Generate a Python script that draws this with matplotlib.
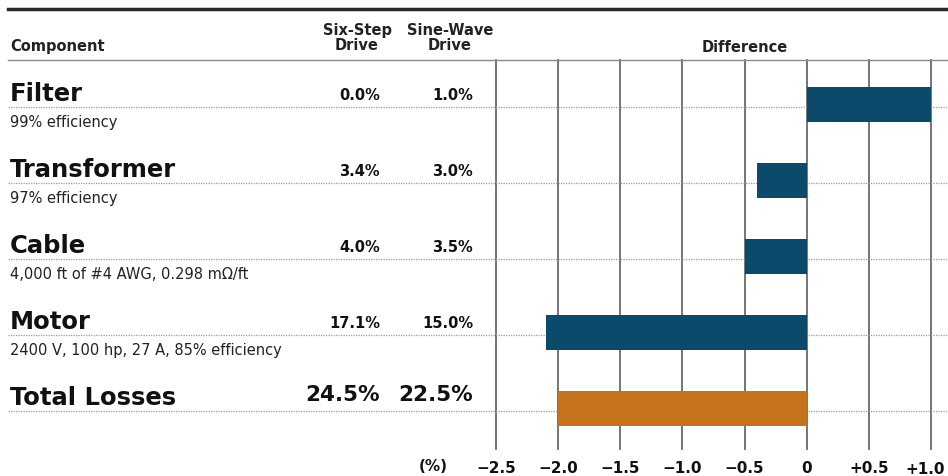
import numpy as np
import matplotlib
matplotlib.use("Agg")
import matplotlib.pyplot as plt
from matplotlib.lines import Line2D
from matplotlib.transforms import blended_transform_factory

components = ["Filter", "Transformer", "Cable", "Motor", "Total Losses"]
details = ["99% efficiency", "97% efficiency", "4,000 ft of #4 AWG, 0.298 m\u03a9/ft",
           "2400 V, 100 hp, 27 A, 85% efficiency", ""]
six_step = ["0.0%", "3.4%", "4.0%", "17.1%", "24.5%"]
sine_wave = ["1.0%", "3.0%", "3.5%", "15.0%", "22.5%"]
difference = [1.0, -0.4, -0.5, -2.1, -2.0]
ticks = [-2.5, -2.0, -1.5, -1.0, -0.5, 0, 0.5, 1.0]
tick_labels = ["\u22122.5", "\u22122.0", "\u22121.5", "\u22121.0", "\u22120.5", "0", "+0.5", "+1.0"]

W, H = 948, 477
navy = "#0C4A6C"
orange = "#C5731B"

plt.rcParams['font.family'] = ['DejaVu Sans']

fig = plt.figure(figsize=(W / 100, H / 100), dpi=100)
ax = fig.add_axes([496 / W, 1 - 450 / H, (W - 496) / W, (450 - 61) / H])

rows = np.arange(len(components))
colors = [navy] * 4 + [orange]
ax.barh(rows, difference, height=0.46, color=colors, zorder=3)

ax.set_xlim(-2.5, -2.5 + (W - 496) / 124.3)
ax.set_ylim(4.53, -0.59)
ax.set_xticks(ticks)
# last label sits against the right edge, drawn separately and nudged left
ax.set_xticklabels(tick_labels[:-1] + [""], fontsize=11, fontweight='bold', color='#111111')
ax.annotate(tick_labels[-1], xy=(ticks[-1], 0), xycoords=('data', 'axes fraction'),
            xytext=(-4, -14), textcoords='offset points', ha='center', va='center',
            fontsize=11, fontweight='bold', color='#111111', annotation_clip=False)
ax.tick_params(axis='x', length=0, pad=8)
ax.set_yticks([])
ax.grid(axis='x', color='#6a6a6a', lw=1.3, zorder=1)
for g in ax.xaxis.get_gridlines():
    g.set_clip_on(False)
for s in ax.spines.values():
    s.set_visible(False)

# dotted row lines across the whole figure
tr = ax.get_yaxis_transform()
x_left = (8 - 496) / (W - 496)
for r in rows:
    ax.add_line(Line2D([x_left, 1], [r + 0.03, r + 0.03], transform=tr, color='#9a9a9a',
                       lw=0.9, ls=(0, (1, 1)), clip_on=False, zorder=2))

# header rules
fig.add_artist(Line2D([8 / W, 1], [1 - 10 / H, 1 - 10 / H], color='#2a2a2a', lw=2.5))
fig.add_artist(Line2D([8 / W, 1], [1 - 61 / H, 1 - 61 / H], color='#8a8a8a', lw=1))

# headers
hdr = dict(fontsize=10.5, fontweight='bold', color='#222222')
fig.text(10 / W, 1 - 47 / H, "Component", ha='left', va='center', **hdr)
fig.text(357 / W, 1 - 38 / H, "Six-Step\nDrive", ha='center', va='center', linespacing=1.0, **hdr)
fig.text(450 / W, 1 - 38 / H, "Sine-Wave\nDrive", ha='center', va='center', linespacing=1.0, **hdr)
fig.text(745 / W, 1 - 48 / H, "Difference", ha='center', va='center', **hdr)
fig.text(433 / W, 1 - 467 / H, "(%)", ha='center', va='center', fontsize=11, fontweight='bold',
         color='#111111')

# row labels
bt = blended_transform_factory(fig.transFigure, ax.transData)
for i, r in enumerate(rows):
    total = i == len(rows) - 1
    fig.text(10 / W, r - 0.06, components[i], transform=bt, ha='left', va='baseline',
             fontsize=17.5, fontweight='bold', color='#111111')
    if details[i]:
        fig.text(10 / W, r + 0.22, details[i], transform=bt, ha='left', va='center',
                 fontsize=10.5, color='#222222')
    fs = 15.5 if total else 10.5
    yv = r - 0.19 if total else r - 0.13
    fig.text(380 / W, yv, six_step[i], transform=bt, ha='right', va='center',
             fontsize=fs, fontweight='bold', color='#111111')
    fig.text(473 / W, yv, sine_wave[i], transform=bt, ha='right', va='center',
             fontsize=fs, fontweight='bold', color='#111111')

fig.savefig("out.png", dpi=100)
